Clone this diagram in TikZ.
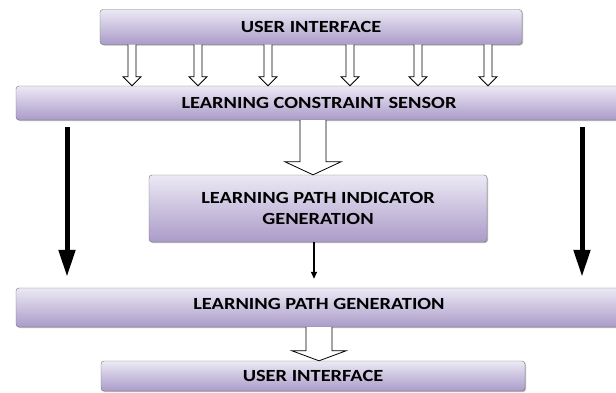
\documentclass[tikz,border=0pt]{standalone}
\usepackage{fontspec}
\setmainfont{Carlito}[FakeStretch=1.2]
\usetikzlibrary{calc,arrows.meta,shadows}

\definecolor{lavdark}{RGB}{170,155,200}
\definecolor{lavlight}{RGB}{236,233,245}

\tikzset{
  block/.style={draw=black!55, rounded corners=3pt, top color=lavlight, bottom color=lavdark,
    drop shadow={shadow xshift=1pt, shadow yshift=-1pt, fill=black!45, opacity=.6},
    align=center, inner sep=0pt, font=\bfseries\fontsize{17}{21}\selectfont},
  hollow/.style={draw=black, line width=0.8pt, fill=white, line join=miter},
  solidarrow/.style={line width=5pt, -{Triangle[length=27pt,width=16pt]}},
  thinarrow/.style={line width=1.6pt, -{Triangle[length=7pt,width=6pt]}}
}

% shaft half width, head half width, head length
\newcommand{\hollowarrow}[5]{%
  \draw[hollow] let \p1=#1, \p2=#2 in
    (\x1-#3,\y1) -- (\x1-#3,\y2+#5) -- (\x1-#4,\y2+#5) -- (\x1,\y2)
    -- (\x1+#4,\y2+#5) -- (\x1+#3,\y2+#5) -- (\x1+#3,\y1);%
}

\begin{document}
\begin{tikzpicture}[x=1pt, y=-1pt]
    \useasboundingbox (0,0) rectangle (616,392);

    \node[block, minimum width=422pt, minimum height=35pt] (ui1) at (311,27) {USER INTERFACE};
    \node[block, minimum width=606pt, minimum height=34pt] (lcs) at (319,103) {LEARNING CONSTRAINT SENSOR};
    \node[block, minimum width=338pt, minimum height=67pt] (lpig) at (318,208.5) {LEARNING PATH INDICATOR\\GENERATION};
    \node[block, minimum width=606pt, minimum height=39pt, text depth=8pt] (lpg) at (319,307.5) {LEARNING PATH GENERATION};
    \node[block, minimum width=424pt, minimum height=30pt] (ui2) at (313,376) {USER INTERFACE};

    \foreach \xa in {132,198,268,350,418,488} {%
        \hollowarrow{(\xa,0 |- ui1.south)}{(\xa,0 |- lcs.north)}{4pt}{9pt}{9pt}%
    }

    \hollowarrow{(313,0 |- lcs.south)}{(313,0 |- lpig.north)}{13pt}{28pt}{13pt}
    \hollowarrow{(319,0 |- lpg.south)}{(319,0 |- ui2.north)}{13pt}{27pt}{10pt}

    \draw[solidarrow, shorten <=7pt, shorten >=11pt] (67,0 |- lcs.south) -- (67,0 |- lpg.north);
    \draw[solidarrow, shorten <=7pt, shorten >=11pt] (582,0 |- lcs.south) -- (582,0 |- lpg.north);
    \draw[thinarrow, shorten >=9pt] (314,0 |- lpig.south) -- (314,0 |- lpg.north);

\end{tikzpicture}
\end{document}
